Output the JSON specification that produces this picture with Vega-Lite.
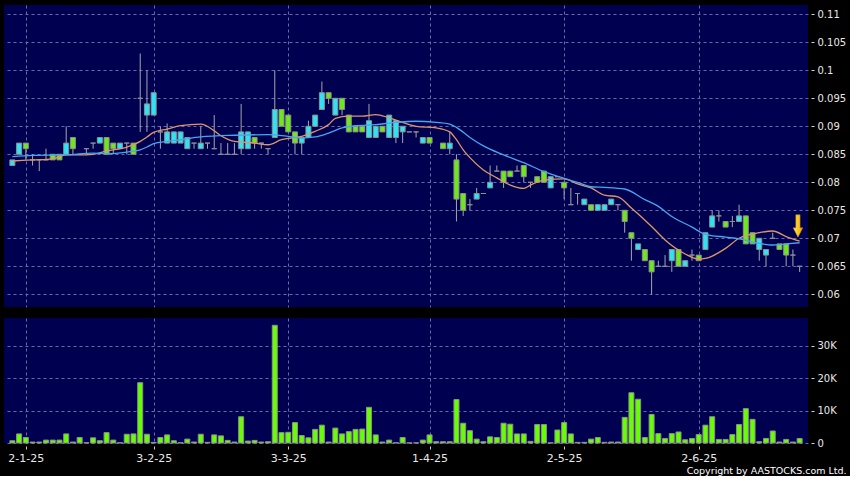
{
  "$schema": "https://vega.github.io/schema/vega-lite/v6.json",
  "background": "#000000",
  "padding": {"left": 4, "top": 5, "right": 8, "bottom": 0},
  "spacing": 11,
  "title": {"text": "Copyright by AASTOCKS.com Ltd.", "orient": "bottom", "anchor": "end", "font": "DejaVu Sans", "fontSize": 9.5, "fontWeight": "normal", "color": "#ffffff", "offset": 3, "dx": 1},
  "config": {
    "view": {"fill": "#000050", "stroke": null},
    "axis": {"labelFont": "DejaVu Sans", "labelColor": "#e8e8e8", "labelFontSize": 10, "gridColor": "#6a6aa6", "gridDash": [3, 3], "gridWidth": 1, "domain": false, "tickColor": "#cfcfcf", "tickSize": 3, "labelOverlap": false}
  },
  "datasets": {
    "candles": [
      {"i":0,"o":0.083,"h":0.084,"l":0.083,"c":0.084,"v":700},
      {"i":1,"o":0.085,"h":0.087,"l":0.085,"c":0.087,"v":2800},
      {"i":2,"o":0.087,"h":0.087,"l":0.084,"c":0.086,"v":1700},
      {"i":3,"o":0.084,"h":0.085,"l":0.083,"c":0.084,"v":300},
      {"i":4,"o":0.084,"h":0.084,"l":0.082,"c":0.084,"v":300},
      {"i":5,"o":0.084,"h":0.086,"l":0.084,"c":0.084,"v":900},
      {"i":6,"o":0.085,"h":0.085,"l":0.084,"c":0.084,"v":900},
      {"i":7,"o":0.085,"h":0.085,"l":0.084,"c":0.084,"v":900},
      {"i":8,"o":0.085,"h":0.090,"l":0.085,"c":0.087,"v":2800},
      {"i":9,"o":0.088,"h":0.088,"l":0.085,"c":0.086,"v":300},
      {"i":10,"o":0.085,"h":0.085,"l":0.085,"c":0.085,"v":1700},
      {"i":11,"o":0.086,"h":0.086,"l":0.085,"c":0.086,"v":100},
      {"i":12,"o":0.087,"h":0.087,"l":0.086,"c":0.087,"v":1600},
      {"i":13,"o":0.087,"h":0.088,"l":0.087,"c":0.088,"v":700},
      {"i":14,"o":0.088,"h":0.088,"l":0.085,"c":0.085,"v":3200},
      {"i":15,"o":0.087,"h":0.087,"l":0.085,"c":0.086,"v":900},
      {"i":16,"o":0.086,"h":0.087,"l":0.086,"c":0.087,"v":100},
      {"i":17,"o":0.087,"h":0.087,"l":0.085,"c":0.087,"v":2700},
      {"i":18,"o":0.087,"h":0.087,"l":0.085,"c":0.085,"v":2800},
      {"i":19,"o":0.095,"h":0.103,"l":0.089,"c":0.095,"v":18600},
      {"i":20,"o":0.092,"h":0.100,"l":0.089,"c":0.094,"v":2700},
      {"i":21,"o":0.092,"h":0.096,"l":0.092,"c":0.096,"v":200},
      {"i":22,"o":0.089,"h":0.090,"l":0.086,"c":0.089,"v":1700},
      {"i":23,"o":0.087,"h":0.0905,"l":0.087,"c":0.089,"v":2500},
      {"i":24,"o":0.087,"h":0.089,"l":0.087,"c":0.089,"v":700},
      {"i":25,"o":0.087,"h":0.089,"l":0.087,"c":0.089,"v":100},
      {"i":26,"o":0.086,"h":0.088,"l":0.086,"c":0.088,"v":1200},
      {"i":27,"o":0.087,"h":0.087,"l":0.086,"c":0.087,"v":300},
      {"i":28,"o":0.086,"h":0.090,"l":0.086,"c":0.087,"v":2700},
      {"i":29,"o":0.087,"h":0.087,"l":0.086,"c":0.087,"v":200},
      {"i":30,"o":0.086,"h":0.092,"l":0.086,"c":0.086,"v":2500},
      {"i":31,"o":0.085,"h":0.087,"l":0.085,"c":0.085,"v":2200},
      {"i":32,"o":0.085,"h":0.087,"l":0.085,"c":0.085,"v":800},
      {"i":33,"o":0.085,"h":0.087,"l":0.085,"c":0.085,"v":300},
      {"i":34,"o":0.086,"h":0.094,"l":0.085,"c":0.089,"v":8100},
      {"i":35,"o":0.086,"h":0.089,"l":0.086,"c":0.089,"v":600},
      {"i":36,"o":0.088,"h":0.088,"l":0.086,"c":0.087,"v":800},
      {"i":37,"o":0.087,"h":0.087,"l":0.086,"c":0.087,"v":300},
      {"i":38,"o":0.086,"h":0.086,"l":0.085,"c":0.086,"v":400},
      {"i":39,"o":0.088,"h":0.100,"l":0.088,"c":0.093,"v":36300},
      {"i":40,"o":0.093,"h":0.093,"l":0.090,"c":0.090,"v":3200},
      {"i":41,"o":0.092,"h":0.092,"l":0.089,"c":0.089,"v":3300},
      {"i":42,"o":0.089,"h":0.089,"l":0.085,"c":0.087,"v":6300},
      {"i":43,"o":0.087,"h":0.088,"l":0.085,"c":0.088,"v":2300},
      {"i":44,"o":0.088,"h":0.091,"l":0.088,"c":0.090,"v":1600},
      {"i":45,"o":0.090,"h":0.092,"l":0.090,"c":0.092,"v":4200},
      {"i":46,"o":0.093,"h":0.098,"l":0.093,"c":0.096,"v":5500},
      {"i":47,"o":0.096,"h":0.096,"l":0.094,"c":0.095,"v":300},
      {"i":48,"o":0.092,"h":0.095,"l":0.092,"c":0.095,"v":4600},
      {"i":49,"o":0.095,"h":0.095,"l":0.092,"c":0.093,"v":2800},
      {"i":50,"o":0.092,"h":0.092,"l":0.089,"c":0.089,"v":3500},
      {"i":51,"o":0.090,"h":0.090,"l":0.089,"c":0.089,"v":4200},
      {"i":52,"o":0.090,"h":0.090,"l":0.089,"c":0.089,"v":4300},
      {"i":53,"o":0.088,"h":0.094,"l":0.088,"c":0.091,"v":11000},
      {"i":54,"o":0.088,"h":0.090,"l":0.088,"c":0.090,"v":2500},
      {"i":55,"o":0.090,"h":0.090,"l":0.089,"c":0.089,"v":300},
      {"i":56,"o":0.088,"h":0.092,"l":0.088,"c":0.092,"v":900},
      {"i":57,"o":0.088,"h":0.091,"l":0.087,"c":0.091,"v":100},
      {"i":58,"o":0.089,"h":0.090,"l":0.087,"c":0.090,"v":1700},
      {"i":59,"o":0.089,"h":0.089,"l":0.089,"c":0.089,"v":50},
      {"i":60,"o":0.089,"h":0.089,"l":0.088,"c":0.089,"v":50},
      {"i":61,"o":0.087,"h":0.088,"l":0.087,"c":0.088,"v":900},
      {"i":62,"o":0.088,"h":0.088,"l":0.087,"c":0.087,"v":2500},
      {"i":63,"v":400},
      {"i":64,"o":0.087,"h":0.087,"l":0.086,"c":0.086,"v":400},
      {"i":65,"o":0.086,"h":0.089,"l":0.085,"c":0.087,"v":400},
      {"i":66,"o":0.084,"h":0.085,"l":0.073,"c":0.077,"v":13400},
      {"i":67,"o":0.078,"h":0.078,"l":0.074,"c":0.075,"v":6100},
      {"i":68,"o":0.076,"h":0.077,"l":0.075,"c":0.076,"v":3800},
      {"i":69,"o":0.077,"h":0.079,"l":0.077,"c":0.078,"v":1200},
      {"i":70,"o":0.078,"h":0.078,"l":0.078,"c":0.078,"v":400},
      {"i":71,"o":0.079,"h":0.083,"l":0.079,"c":0.080,"v":1900},
      {"i":72,"o":0.082,"h":0.083,"l":0.082,"c":0.082,"v":1700},
      {"i":73,"o":0.082,"h":0.082,"l":0.079,"c":0.080,"v":6100},
      {"i":74,"o":0.082,"h":0.082,"l":0.081,"c":0.081,"v":5800},
      {"i":75,"o":0.082,"h":0.083,"l":0.082,"c":0.082,"v":2800},
      {"i":76,"o":0.083,"h":0.083,"l":0.080,"c":0.081,"v":2800},
      {"i":77,"o":0.080,"h":0.080,"l":0.079,"c":0.080,"v":500},
      {"i":78,"o":0.081,"h":0.081,"l":0.080,"c":0.080,"v":5700},
      {"i":79,"o":0.082,"h":0.082,"l":0.080,"c":0.080,"v":5700},
      {"i":80,"o":0.079,"h":0.081,"l":0.079,"c":0.081,"v":50},
      {"i":81,"o":0.081,"h":0.081,"l":0.081,"c":0.081,"v":4000},
      {"i":82,"o":0.080,"h":0.080,"l":0.077,"c":0.079,"v":6300},
      {"i":83,"o":0.076,"h":0.079,"l":0.076,"c":0.076,"v":2800},
      {"i":84,"o":0.078,"h":0.078,"l":0.076,"c":0.078,"v":200},
      {"i":85,"o":0.076,"h":0.077,"l":0.076,"c":0.077,"v":200},
      {"i":86,"o":0.076,"h":0.076,"l":0.075,"c":0.075,"v":1200},
      {"i":87,"o":0.075,"h":0.076,"l":0.075,"c":0.076,"v":1700},
      {"i":88,"o":0.075,"h":0.076,"l":0.075,"c":0.076,"v":200},
      {"i":89,"o":0.076,"h":0.077,"l":0.076,"c":0.077,"v":300},
      {"i":90,"o":0.076,"h":0.076,"l":0.075,"c":0.076,"v":300},
      {"i":91,"o":0.075,"h":0.075,"l":0.071,"c":0.073,"v":7900},
      {"i":92,"o":0.071,"h":0.071,"l":0.066,"c":0.070,"v":15500},
      {"i":93,"o":0.068,"h":0.069,"l":0.068,"c":0.069,"v":13500},
      {"i":94,"o":0.068,"h":0.068,"l":0.066,"c":0.066,"v":1700},
      {"i":95,"o":0.066,"h":0.066,"l":0.060,"c":0.064,"v":8800},
      {"i":96,"o":0.065,"h":0.066,"l":0.065,"c":0.065,"v":2900},
      {"i":97,"o":0.065,"h":0.067,"l":0.065,"c":0.065,"v":1400},
      {"i":98,"o":0.066,"h":0.068,"l":0.064,"c":0.068,"v":2900},
      {"i":99,"o":0.068,"h":0.068,"l":0.065,"c":0.065,"v":3400},
      {"i":100,"o":0.065,"h":0.066,"l":0.065,"c":0.066,"v":1000},
      {"i":101,"o":0.067,"h":0.068,"l":0.066,"c":0.067,"v":1400},
      {"i":102,"o":0.067,"h":0.067,"l":0.066,"c":0.066,"v":2600},
      {"i":103,"o":0.068,"h":0.071,"l":0.068,"c":0.071,"v":5500},
      {"i":104,"o":0.072,"h":0.075,"l":0.072,"c":0.074,"v":8100},
      {"i":105,"o":0.074,"h":0.075,"l":0.073,"c":0.074,"v":1100},
      {"i":106,"o":0.073,"h":0.073,"l":0.072,"c":0.072,"v":1100},
      {"i":107,"o":0.073,"h":0.074,"l":0.072,"c":0.073,"v":2600},
      {"i":108,"o":0.073,"h":0.076,"l":0.073,"c":0.074,"v":5700},
      {"i":109,"o":0.074,"h":0.074,"l":0.069,"c":0.069,"v":10600},
      {"i":110,"o":0.071,"h":0.071,"l":0.069,"c":0.069,"v":7300},
      {"i":111,"o":0.068,"h":0.070,"l":0.066,"c":0.070,"v":400},
      {"i":112,"o":0.067,"h":0.068,"l":0.065,"c":0.068,"v":1400},
      {"i":113,"o":0.070,"h":0.071,"l":0.070,"c":0.070,"v":3700},
      {"i":114,"o":0.069,"h":0.069,"l":0.068,"c":0.068,"v":300},
      {"i":115,"o":0.069,"h":0.069,"l":0.065,"c":0.067,"v":1100},
      {"i":116,"o":0.067,"h":0.068,"l":0.065,"c":0.067,"v":300},
      {"i":117,"o":0.065,"h":0.065,"l":0.064,"c":0.065,"v":1400}
    ],
    "ma": [
      {"s":"MA10","i":0,"p":0.0838},{"s":"MA10","i":3,"p":0.0840},{"s":"MA10","i":6,"p":0.0842},{"s":"MA10","i":8,"p":0.0849},
      {"s":"MA10","i":10,"p":0.0849},{"s":"MA10","i":12,"p":0.0850},{"s":"MA10","i":14,"p":0.0856},{"s":"MA10","i":17,"p":0.0863},
      {"s":"MA10","i":19,"p":0.0873},{"s":"MA10","i":20,"p":0.0881},{"s":"MA10","i":21,"p":0.0889},{"s":"MA10","i":23,"p":0.0895},
      {"s":"MA10","i":25,"p":0.0901},{"s":"MA10","i":28,"p":0.0904},{"s":"MA10","i":30,"p":0.0892},{"s":"MA10","i":31,"p":0.0883},
      {"s":"MA10","i":33,"p":0.0873},{"s":"MA10","i":36,"p":0.0870},{"s":"MA10","i":38,"p":0.0867},{"s":"MA10","i":40,"p":0.0876},
      {"s":"MA10","i":42,"p":0.0880},{"s":"MA10","i":43,"p":0.0882},{"s":"MA10","i":45,"p":0.0891},{"s":"MA10","i":47,"p":0.0903},
      {"s":"MA10","i":48,"p":0.0914},{"s":"MA10","i":50,"p":0.0918},{"s":"MA10","i":52,"p":0.0918},{"s":"MA10","i":54,"p":0.0921},
      {"s":"MA10","i":56,"p":0.0915},{"s":"MA10","i":58,"p":0.0907},{"s":"MA10","i":60,"p":0.0900},{"s":"MA10","i":63,"p":0.0897},
      {"s":"MA10","i":65,"p":0.0890},{"s":"MA10","i":66,"p":0.0876},{"s":"MA10","i":67,"p":0.0858},{"s":"MA10","i":68,"p":0.0844},
      {"s":"MA10","i":70,"p":0.0822},{"s":"MA10","i":72,"p":0.0808},{"s":"MA10","i":74,"p":0.0795},{"s":"MA10","i":76,"p":0.0789},
      {"s":"MA10","i":77,"p":0.0795},{"s":"MA10","i":79,"p":0.0804},{"s":"MA10","i":82,"p":0.0806},{"s":"MA10","i":84,"p":0.0797},
      {"s":"MA10","i":86,"p":0.0790},{"s":"MA10","i":88,"p":0.0777},{"s":"MA10","i":90,"p":0.0774},{"s":"MA10","i":92,"p":0.0754},
      {"s":"MA10","i":95,"p":0.0721},{"s":"MA10","i":97,"p":0.0697},{"s":"MA10","i":100,"p":0.0672},{"s":"MA10","i":102,"p":0.0663},
      {"s":"MA10","i":103,"p":0.0664},{"s":"MA10","i":106,"p":0.0682},{"s":"MA10","i":108,"p":0.0700},{"s":"MA10","i":111,"p":0.0710},
      {"s":"MA10","i":113,"p":0.0713},{"s":"MA10","i":115,"p":0.0703},{"s":"MA10","i":117,"p":0.0695},
      {"s":"MA20","i":0,"p":0.0846},{"s":"MA20","i":3,"p":0.0848},{"s":"MA20","i":8,"p":0.0849},{"s":"MA20","i":12,"p":0.0852},
      {"s":"MA20","i":14,"p":0.0851},{"s":"MA20","i":17,"p":0.0854},{"s":"MA20","i":19,"p":0.0858},{"s":"MA20","i":20,"p":0.0863},
      {"s":"MA20","i":21,"p":0.0869},{"s":"MA20","i":23,"p":0.0873},{"s":"MA20","i":25,"p":0.0876},{"s":"MA20","i":28,"p":0.0881},
      {"s":"MA20","i":33,"p":0.0884},{"s":"MA20","i":38,"p":0.0885},{"s":"MA20","i":41,"p":0.0882},{"s":"MA20","i":43,"p":0.0879},
      {"s":"MA20","i":45,"p":0.0881},{"s":"MA20","i":47,"p":0.0888},{"s":"MA20","i":49,"p":0.0897},{"s":"MA20","i":51,"p":0.0901},
      {"s":"MA20","i":54,"p":0.0903},{"s":"MA20","i":57,"p":0.0907},{"s":"MA20","i":60,"p":0.0909},{"s":"MA20","i":63,"p":0.0907},
      {"s":"MA20","i":65,"p":0.0904},{"s":"MA20","i":66,"p":0.0898},{"s":"MA20","i":68,"p":0.0880},{"s":"MA20","i":70,"p":0.0865},
      {"s":"MA20","i":73,"p":0.0849},{"s":"MA20","i":76,"p":0.0835},{"s":"MA20","i":79,"p":0.0819},{"s":"MA20","i":82,"p":0.0807},
      {"s":"MA20","i":84,"p":0.0800},{"s":"MA20","i":86,"p":0.0792},{"s":"MA20","i":88,"p":0.0791},{"s":"MA20","i":91,"p":0.0788},
      {"s":"MA20","i":94,"p":0.0769},{"s":"MA20","i":96,"p":0.0757},{"s":"MA20","i":98,"p":0.0739},{"s":"MA20","i":101,"p":0.0720},
      {"s":"MA20","i":103,"p":0.0707},{"s":"MA20","i":106,"p":0.0702},{"s":"MA20","i":108,"p":0.0699},{"s":"MA20","i":111,"p":0.0691},
      {"s":"MA20","i":113,"p":0.0688},{"s":"MA20","i":115,"p":0.0690},{"s":"MA20","i":117,"p":0.0692}
    ],
    "marker": [{"i": 116.75, "p": 0.0722}]
  },
  "vconcat": [
    {
      "width": 804,
      "height": 302,
      "encoding": {
        "x": {"field": "i", "type": "quantitative", "title": null,
              "scale": {"domain": [-0.5, 117.5], "nice": false, "zero": false},
              "axis": {"values": [2, 21, 41, 62, 82, 102], "labels": false, "ticks": false, "grid": true, "domain": false}}
      },
      "layer": [
        {
          "data": {"name": "candles"},
          "transform": [{"filter": "isValid(datum.o)"}],
          "mark": {"type": "rule", "color": "#a6a6a6", "strokeWidth": 1},
          "encoding": {
            "y": {"field": "l", "type": "quantitative", "title": null,
                  "scale": {"domain": [0.05773, 0.11166], "nice": false, "zero": false},
                  "axis": {"orient": "right", "values": [0.06, 0.065, 0.07, 0.075, 0.08, 0.085, 0.09, 0.095, 0.1, 0.105, 0.11], "format": "~g", "offset": 3, "labelPadding": 3, "grid": true}},
            "y2": {"field": "h"}
          }
        },
        {
          "data": {"name": "candles"},
          "transform": [{"filter": "isValid(datum.o)"}],
          "mark": {"type": "bar", "width": 5, "stroke": "#8e8e8e", "strokeWidth": 1},
          "encoding": {
            "y": {"field": "o", "type": "quantitative", "title": null,
                  "scale": {"domain": [0.05773, 0.11166], "nice": false, "zero": false},
                  "axis": {"orient": "right", "values": [0.06, 0.065, 0.07, 0.075, 0.08, 0.085, 0.09, 0.095, 0.1, 0.105, 0.11], "format": "~g", "offset": 3, "labelPadding": 3, "grid": true}},
            "y2": {"field": "c"},
            "color": {"condition": {"test": "datum.c > datum.o", "value": "#2ee3f3"}, "value": "#6ee81a"}
          }
        },
        {
          "data": {"name": "ma"},
          "mark": {"type": "line", "strokeWidth": 1.3, "interpolate": "monotone"},
          "encoding": {
            "y": {"field": "p", "type": "quantitative", "title": null,
                  "scale": {"domain": [0.05773, 0.11166], "nice": false, "zero": false},
                  "axis": {"orient": "right", "values": [0.06, 0.065, 0.07, 0.075, 0.08, 0.085, 0.09, 0.095, 0.1, 0.105, 0.11], "format": "~g", "offset": 3, "labelPadding": 3, "grid": true}},
            "color": {"field": "s", "type": "nominal", "legend": null, "scale": {"domain": ["MA10", "MA20"], "range": ["#e0946c", "#46a6f0"]}}
          }
        },
        {
          "data": {"name": "marker"},
          "mark": {"type": "point", "filled": true, "size": 500, "opacity": 1, "stroke": "#c88a00", "strokeWidth": 0.5,
                   "shape": "M-0.19,-1 L0.19,-1 L0.19,0.17 L0.43,0.17 L0,1 L-0.43,0.17 L-0.19,0.17 Z",
                   "fill": {"gradient": "linear", "x1": 0, "y1": 0, "x2": 1, "y2": 0, "stops": [{"offset": 0, "color": "#ffe45a"}, {"offset": 1, "color": "#f0a800"}]}},
          "encoding": {
            "y": {"field": "p", "type": "quantitative", "title": null,
                  "scale": {"domain": [0.05773, 0.11166], "nice": false, "zero": false},
                  "axis": {"orient": "right", "values": [0.06, 0.065, 0.07, 0.075, 0.08, 0.085, 0.09, 0.095, 0.1, 0.105, 0.11], "format": "~g", "offset": 3, "labelPadding": 3, "grid": true}}
          }
        }
      ]
    },
    {
      "width": 804,
      "height": 125,
      "data": {"name": "candles"},
      "mark": {"type": "bar", "width": 5, "color": "#66ff00", "stroke": "#8e8e8e", "strokeWidth": 1},
      "encoding": {
        "x": {"field": "i", "type": "quantitative", "title": null,
              "scale": {"domain": [-0.5, 117.5], "nice": false, "zero": false},
              "axis": {"values": [2, 21, 41, 62, 82, 102], "grid": true, "offset": 3, "labelPadding": 3, "labelFontSize": 11,
                       "labelExpr": "datum.value == 2 ? '2-1-25' : datum.value == 21 ? '3-2-25' : datum.value == 41 ? '3-3-25' : datum.value == 62 ? '1-4-25' : datum.value == 82 ? '2-5-25' : '2-6-25'"}},
        "y": {"field": "v", "type": "quantitative", "title": null,
              "scale": {"domain": [0, 38550], "nice": false},
              "axis": {"orient": "right", "values": [0, 10000, 20000, 30000], "offset": 3, "labelPadding": 3, "grid": true,
                       "labelExpr": "datum.value == 0 ? '0' : (datum.value / 1000) + 'K'"}}
      }
    }
  ]
}
